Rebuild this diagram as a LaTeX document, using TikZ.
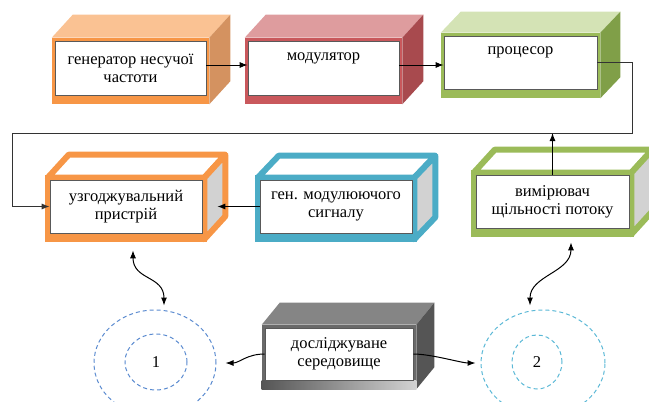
\documentclass[tikz,border=0pt]{standalone}
\usepackage{fontspec}
\setmainfont{Liberation Serif}
\newfontfamily\ukrfont{Liberation Serif}
\usetikzlibrary{calc}
\usetikzlibrary{arrows.meta}
\usetikzlibrary{shapes.geometric}
\pgfdeclarelayer{bg}
\pgfsetlayers{bg,main}

\definecolor{orng}{HTML}{F79646}
\definecolor{orngTop}{HTML}{FAC293}
\definecolor{orngSide}{HTML}{D49260}
\definecolor{rd}{HTML}{C9585C}
\definecolor{rdTop}{HTML}{DE9C9E}
\definecolor{rdSide}{HTML}{A84A4E}
\definecolor{grn}{HTML}{9BBB59}
\definecolor{grnTop}{HTML}{D4E3B5}
\definecolor{grnSide}{HTML}{809F48}
\definecolor{blu}{HTML}{4BACC6}
\definecolor{sideGray}{HTML}{D2D2D2}
\definecolor{gry}{HTML}{6A6A6A}
\definecolor{gryTop}{HTML}{858585}
\definecolor{grySide}{HTML}{555555}
\definecolor{ringA}{HTML}{5B8BD0}
\definecolor{ringB}{HTML}{5BB8D6}

\begin{document}
\begin{tikzpicture}[
    x=1pt, y=-1pt,
    face/.style={
      rectangle,
      fill=white,
      draw=gray!70!black,
      line width=0.6pt,
      inner sep=0pt,
      align=center,
      font=\ukrfont\fontsize{16.5}{18}\selectfont
    },
    arr/.style={
      line width=1pt,
      -{Latex[length=8pt,width=6pt]}
    },
    wave/.style={
      line width=1pt,
      {Latex[length=8pt,width=6pt]}-{Latex[length=8pt,width=6pt]}
    },
    ring/.style={
      ellipse,
      draw,
      line width=1pt,
      dash pattern=on 4pt off 3pt,
      inner sep=0pt,
      font=\ukrfont\fontsize{16.5}{18}\selectfont
    }
  ]
  \useasboundingbox (0,0) rectangle (649,402);

  % top row
  \node[face, minimum width=151, minimum height=54] (gen) at (130.5,68) {генератор несучої\\частоти};
  \node[face, minimum width=151, minimum height=54] (mod) at (323.5,68) {модулятор\\\strut};
  \node[face, minimum width=153, minimum height=53] (proc) at (520.5,62.5) {процесор\\\strut};

  % middle row
  \node[face, minimum width=152, minimum height=53] (uzg) at (126,206.5) {узгоджувальний\\пристрій};
  \node[face, minimum width=152, minimum height=53] (gnm) at (336,206.5) {ген. модулюючого\\сигналу};
  \node[face, minimum width=153, minimum height=53] (vym) at (552.5,201.5) {вимірювач\\щільності потоку};

  % bottom row
  \node[face, minimum width=148, minimum height=52] (med) at (339,354) {досліджуване\\середовище};
  \node[ring, ringA, minimum width=122, minimum height=106] (c1o) at (155,363) {};
  \node[ring, ringA, minimum width=62, minimum height=56, text=black] (c1i) at (156,362) {1};
  \node[ring, ringB, minimum width=124, minimum height=106] (c2o) at (543,363) {};
  \node[ring, ringB, minimum width=50, minimum height=54, text=black] (c2i) at (537,362) {2};

  \begin{pgfonlayer}{bg}
    \foreach \n/\c/\t/\s/\dx/\dy in {gen/orng/orngTop/orngSide/21/-23, mod/rd/rdTop/rdSide/21/-23, proc/grn/grnTop/grnSide/20/-21, med/gry/gryTop/grySide/18/-22} {
      \coordinate (tl) at ($(\n.north west)+(-3,-3)$);
      \coordinate (tr) at ($(\n.north east)+(3,-3)$);
      \coordinate (br) at ($(\n.south east)+(3,9)$);
      \fill[\t] (tl) -- ++(\dx,\dy) -- ($(tr)+(\dx,\dy)$) -- (tr) -- cycle;
      \fill[\s] (tr) -- ++(\dx,\dy) -- ($(br)+(\dx,\dy)$) -- (br) -- cycle;
      \fill[\c] (tl) rectangle (br);
    }
    \shade[left color=grySide, right color=gray!35] ($(med.south west)+(-3,0)$) rectangle ($(med.south east)+(3,9)$);
    \foreach \n/\c/\dx/\dy in {uzg/orng/21/-23, gnm/blu/21/-22, vym/grn/21/-23} {
      \coordinate (tl) at ($(\n.north west)+(-5,-5)$);
      \coordinate (tr) at ($(\n.north east)+(5,-5)$);
      \coordinate (br) at ($(\n.south east)+(5,9)$);
      \draw[\c, line width=6pt, line join=round, fill=white] ($(tl)+(3,3)$) -- ++(\dx,\dy) -- ($(tr)+(-3,3)+(\dx,\dy)$) -- ($(tr)+(-3,3)$) -- cycle;
      \draw[\c, line width=6pt, line join=round, fill=sideGray] ($(tr)+(-3,3)$) -- ++(\dx,\dy) -- ($(br)+(-3,-3)+(\dx,\dy)$) -- ($(br)+(-3,-3)$) -- cycle;
      \fill[\c] (tl) rectangle (br);
    }
  \end{pgfonlayer}

  \coordinate (loopR) at (632,133);
  \coordinate (loopL) at (12,133);

  \draw[arr] ([yshift=3pt]gen.east) -- ([yshift=3pt]mod.west);
  \draw[arr] ([yshift=3pt]mod.east) -- ([yshift=3pt]mod.east -| proc.west);
  \draw[arr, gray!40!black] (proc.east) -| (loopR) -- (loopL) |- (uzg.west);
  \draw[arr, shorten >=15pt] (gnm.west) -- (uzg.east);
  \draw[arr] (vym.north) -- (vym.north |- loopL);

  \draw[wave] ([xshift=7pt,yshift=-17pt]uzg.south) .. controls +(0,30) and +(0,-30) .. ([xshift=9pt,yshift=4pt]c1o.north);
  \draw[wave] ([xshift=18.5pt,yshift=-14pt]vym.south) .. controls +(0,30) and +(0,-30) .. ([xshift=-13pt,yshift=4pt]c2o.north);
  \draw[arr] (med.west) .. controls +(-18,0) and +(14,0) .. ([xshift=9pt]c1o.east);
  \draw[arr] (med.east) .. controls +(18,0) and +(-14,0) .. ([xshift=-5pt]c2o.west);
\end{tikzpicture}
\end{document}
